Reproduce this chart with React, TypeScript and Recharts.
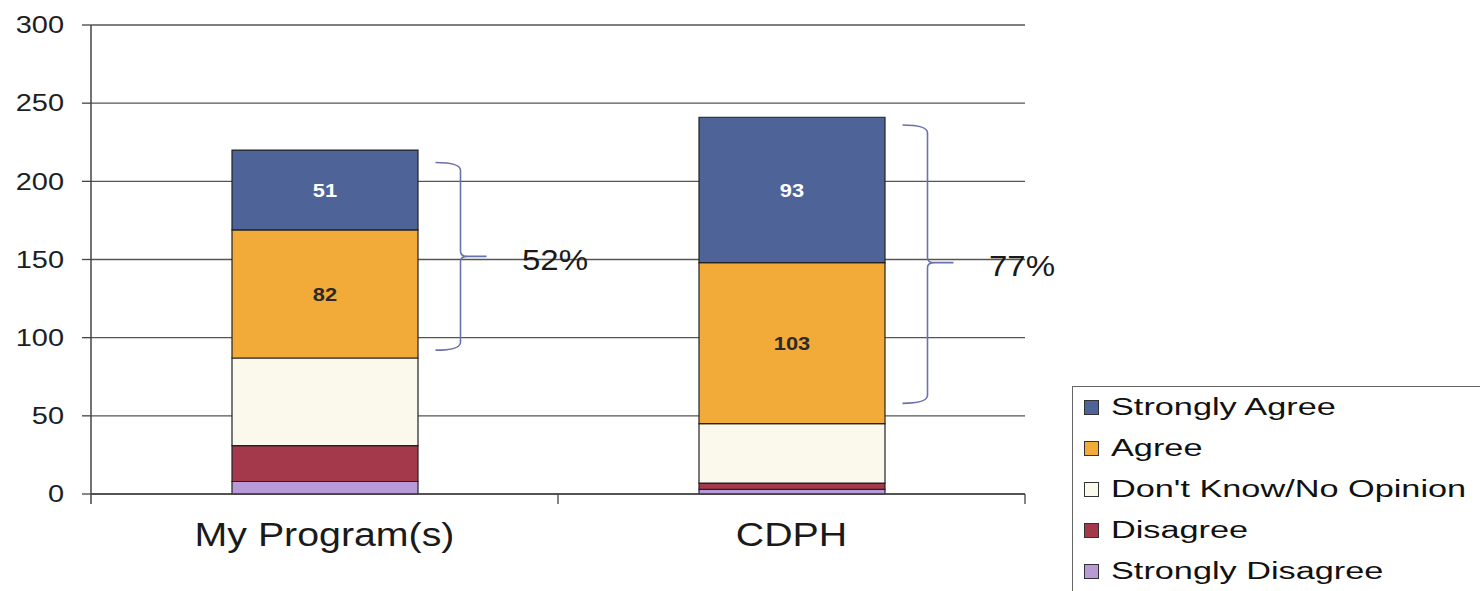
import React from "react";
import { BarChart, Bar, XAxis, YAxis, CartesianGrid, Legend, LabelList, ReferenceArea } from "recharts";

const FONT = '"Liberation Sans", Arial, sans-serif';

const categories = ["My Program(s)", "CDPH"];
const stronglyDisagree = [8, 3];
const disagree = [23, 4];
const dontKnow = [56, 38];
const agree = [82, 103];
const stronglyAgree = [51, 93];
const yTicks = [0, 50, 100, 150, 200, 250, 300];

// brace annotations to the right of each bar (agree + strongly agree share)
const braceLow = [92, 58];
const braceHigh = [212, 236];
const braceTip = [152, 148];
const braceLabels = ["52%", "77%"];

const series = [
  { key: "sd", name: "Strongly Disagree", color: "#b89ad6", values: stronglyDisagree },
  { key: "d", name: "Disagree", color: "#a3394a", values: disagree },
  { key: "dk", name: "Don't Know/No Opinion", color: "#fbf8ec", values: dontKnow },
  { key: "a", name: "Agree", color: "#f2ab38", values: agree },
  { key: "sa", name: "Strongly Agree", color: "#4e6398", values: stronglyAgree },
];

const data = categories.map((name, i) => {
  const row: Record<string, string | number> = { name };
  series.forEach((s) => (row[s.key] = s.values[i]));
  return row;
});

function YTick({ x, y, payload }: any) {
  return (
    <g transform={`translate(${x},${y})`}>
      <text transform="scale(1.26,1)" textAnchor="end" dy="0.36em" fontSize={23} fill="#1e1e1e" fontFamily={FONT}>
        {payload.value}
      </text>
    </g>
  );
}

function XTick({ x, y, payload }: any) {
  return (
    <g transform={`translate(${x},${y})`}>
      <text transform="scale(1.21,1)" textAnchor="middle" y={50} fontSize={32.5} fill="#1a1a1a" fontFamily={FONT}>
        {payload.value}
      </text>
    </g>
  );
}

const valueLabel = (fill: string) => (props: any) => {
  const { x, y, width, height, value } = props;
  return (
    <g transform={`translate(${x + width / 2},${y + height / 2})`}>
      <text transform="scale(1.15,1)" textAnchor="middle" dy="0.36em" fontSize={19} fontWeight="bold" fill={fill} fontFamily={FONT}>
        {value}
      </text>
    </g>
  );
};

const braceShape = (i: number) => (props: any) => {
  const { x, y, width, height } = props;
  const cx = x + width / 2;
  const top = y;
  const bottom = y + height;
  const tipY = top + (height * (braceHigh[i] - braceTip[i])) / (braceHigh[i] - braceLow[i]);
  // zero line from the same linear scale, for the category boundary ticks
  const y0 = bottom + (height * braceLow[i]) / (braceHigh[i] - braceLow[i]);
  const xe = cx + 111;
  const xv = cx + 136;
  const xt = cx + 162;
  const d =
    `M${xe},${top} Q${xv},${top} ${xv},${top + 8} L${xv},${tipY - 5} Q${xv},${tipY} ${xv + 7},${tipY} L${xt},${tipY} ` +
    `M${xv + 7},${tipY} Q${xv},${tipY} ${xv},${tipY + 5} L${xv},${bottom - 8} Q${xv},${bottom} ${xe},${bottom}`;
  return (
    <g>
      <line x1={x + width} x2={x + width} y1={y0} y2={y0 + 10} stroke="#444" strokeWidth={1.3} />
      {i === 0 && <line x1={x} x2={x} y1={y0} y2={y0 + 10} stroke="#444" strokeWidth={1.5} />}
      <path d={d} fill="none" stroke="#6a72ad" strokeWidth={1.6} />
      <g transform={`translate(${x + width - 3},${tipY + 3})`}>
        <text transform="scale(1.14,1)" textAnchor="middle" dy="0.36em" fontSize={29} fill="#1a1a1a" fontFamily={FONT}>
          {braceLabels[i]}
        </text>
      </g>
    </g>
  );
};

function LegendBox() {
  return (
    <div
      style={{
        boxSizing: "border-box",
        width: 430,
        height: 230,
        border: "1.5px solid #666",
        background: "#fff",
        fontFamily: FONT,
      }}
    >
      {[...series].reverse().map((s) => (
        <div key={s.key} style={{ height: 41, display: "flex", alignItems: "center", paddingLeft: 11 }}>
          <span
            style={{
              display: "inline-block",
              width: 15,
              height: 15,
              boxSizing: "border-box",
              background: s.color,
              border: "1.5px solid #333",
              marginRight: 12,
            }}
          />
          <span
            style={{
              display: "inline-block",
              fontSize: 23,
              color: "#111",
              transform: "scaleX(1.49)",
              transformOrigin: "left center",
              whiteSpace: "nowrap",
            }}
          >
            {s.name}
          </span>
        </div>
      ))}
    </div>
  );
}

export default function App() {
  return (
    <div style={{ position: "absolute", left: 0, top: 0, width: 1480, height: 591, overflow: "hidden", background: "#fff" }}>
      <BarChart
        width={1480}
        height={591}
        data={data}
        margin={{ top: 25, right: 455, bottom: 37, left: 0 }}
        barSize={186}
        style={{ fontFamily: FONT }}
      >
        <CartesianGrid vertical={false} stroke="#555" strokeWidth={1.3} />
        <XAxis
          dataKey="name"
          height={60}
          tick={<XTick />}
          tickLine={false}
          tickSize={0}
          axisLine={{ stroke: "#444", strokeWidth: 1.5 }}
        />
        <YAxis
          width={91}
          domain={[0, 300]}
          ticks={yTicks}
          tick={<YTick />}
          tickSize={9}
          tickMargin={18}
          tickLine={{ stroke: "#444", strokeWidth: 1.3 }}
          axisLine={{ stroke: "#444", strokeWidth: 1.5 }}
        />
        {series.map((s) => (
          <Bar key={s.key} dataKey={s.key} name={s.name} stackId="a" fill={s.color} stroke="#222" strokeWidth={1.2} isAnimationActive={false}>
            {s.key === "sa" && <LabelList dataKey="sa" content={valueLabel("#ffffff")} />}
            {s.key === "a" && <LabelList dataKey="a" content={valueLabel("#2a2a2a")} />}
          </Bar>
        ))}
        {categories.map((c, i) => (
          <ReferenceArea key={c} x1={c} x2={c} y1={braceLow[i]} y2={braceHigh[i]} shape={braceShape(i)} ifOverflow="visible" />
        ))}
        <Legend
          layout="vertical"
          align="center"
          verticalAlign="middle"
          wrapperStyle={{ left: 1072, top: 386, width: 430, height: 230 }}
          content={() => <LegendBox />}
        />
      </BarChart>
    </div>
  );
}
